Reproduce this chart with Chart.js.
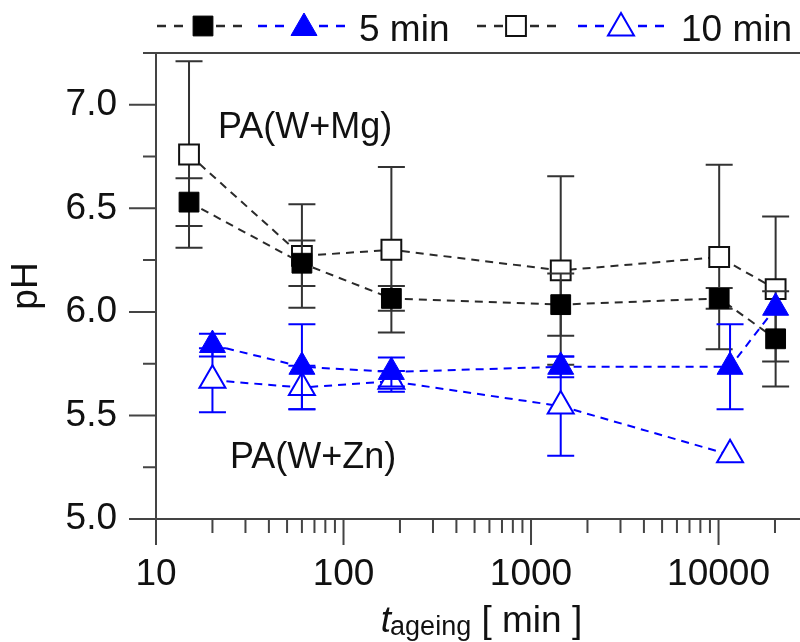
<!DOCTYPE html>
<html><head><meta charset="utf-8">
<script src="https://cdn.jsdelivr.net/npm/chart.js@4/dist/chart.umd.min.js"></script>
<style>
html,body{margin:0;padding:0;background:#fff;overflow:hidden;}
#wrap{width:800px;height:642px;overflow:hidden;position:relative;background:#fff;}
canvas{display:block;}
</style></head><body>
<div id="wrap"><canvas id="c" width="820" height="642"></canvas></div>
<script>
const FONT = "'Liberation Sans', Arial, Helvetica, sans-serif";
const TXT = '#111';

// ---- data ----
const xTickLabels = [10, 100, 1000, 10000];
const yTickLabels = [5.0, 5.5, 6.0, 6.5, 7.0];

const xMg = [15, 60, 180, 1440, 10080, 20160];
const mg5 = [6.53, 6.235, 6.065, 6.035, 6.065, 5.87];
const mg5Err = [0.115, 0.11, 0.06, 0.15, 0.05, 0.23];
const mg10 = [6.76, 6.27, 6.30, 6.20, 6.265, 6.11];
const mg10Err = [0.45, 0.25, 0.40, 0.455, 0.445, 0.35];

const xZn5 = [20, 60, 180, 1440, 11520, 20160];
const zn5 = [5.84, 5.735, 5.71, 5.735, 5.735, 6.02];
const zn5Err = [0.055, 0.205, 0.07, 0.05, 0.205, 0];
const xZn10 = [20, 60, 180, 1440, 11520];
const zn10 = [5.67, 5.635, 5.665, 5.545, 5.31];
const zn10Err = [0.155, 0.105, 0.05, 0.24, 0];

const legendLabels = ['', '5 min', '', '10 min'];
const annotations = [
  {text: 'PA(W+Mg)', x: 218, y: 138},
  {text: 'PA(W+Zn)', x: 230, y: 468}
];

function pts(xs, ys) { return xs.map((x, i) => ({x: x, y: ys[i]})); }

const BLACK = '#000', LINEK = '#2a2a2a', BLUE = '#0000ff';

const datasets = [
  {label: 'Mg 10 min', data: pts(xMg, mg10), errors: mg10Err, errColor: '#333',
   borderColor: LINEK, pointStyle: 'rect', pointRadius: 14, pointBackgroundColor: '#fff',
   pointBorderColor: '#111', pointBorderWidth: 2, order: 4},
  {label: 'Mg 5 min', data: pts(xMg, mg5), errors: mg5Err, errColor: '#333',
   borderColor: LINEK, pointStyle: 'rect', pointRadius: 14, pointBackgroundColor: BLACK,
   pointBorderColor: BLACK, pointBorderWidth: 1, order: 3},
  {label: 'Zn 10 min', data: pts(xZn10, zn10), errors: zn10Err, errColor: BLUE,
   borderColor: BLUE, pointStyle: 'triangle', pointRadius: 15, pointBackgroundColor: '#fff',
   pointBorderColor: BLUE, pointBorderWidth: 2, order: 2},
  {label: 'Zn 5 min', data: pts(xZn5, zn5), errors: zn5Err, errColor: BLUE,
   borderColor: BLUE, pointStyle: 'triangle', pointRadius: 15, pointBackgroundColor: BLUE,
   pointBorderColor: BLUE, pointBorderWidth: 1, order: 1}
];
datasets.forEach(d => { d.showLine = true; d.borderWidth = 2; d.borderDash = [8, 6]; d.tension = 0; d.fill = false; d.pointHoverRadius = d.pointRadius; });

const isMajorY = v => yTickLabels.some(t => Math.abs(t - v) < 1e-6);

// error bars drawn just before each dataset (under its own markers)
const errorBars = {
  id: 'errorBars',
  beforeDatasetDraw(chart, args) {
    const ds = chart.data.datasets[args.index];
    if (!ds.errors) return;
    const ctx = chart.ctx, yS = chart.scales.y;
    ctx.save();
    ctx.strokeStyle = ds.errColor; ctx.lineWidth = 2; ctx.setLineDash([]);
    args.meta.data.forEach((el, i) => {
      const e = ds.errors[i];
      if (!e) return;
      const v = ds.data[i].y;
      const yt = yS.getPixelForValue(v + e), yb = yS.getPixelForValue(v - e);
      ctx.beginPath();
      ctx.moveTo(el.x, yt); ctx.lineTo(el.x, yb);
      ctx.moveTo(el.x - 13.5, yt); ctx.lineTo(el.x + 13.5, yt);
      ctx.moveTo(el.x - 13.5, yb); ctx.lineTo(el.x + 13.5, yb);
      ctx.stroke();
    });
    ctx.restore();
  }
};

function marker(ctx, style, x, y, r, fill, stroke, bw) {
  ctx.save();
  ctx.setLineDash([]);
  ctx.fillStyle = fill; ctx.strokeStyle = stroke; ctx.lineWidth = bw;
  ctx.beginPath();
  if (style === 'rect') {
    const s = Math.SQRT1_2 * r;
    ctx.rect(x - s, y - s, 2 * s, 2 * s);
  } else {
    let a = 0;
    ctx.moveTo(x + Math.sin(a) * r, y - Math.cos(a) * r);
    a += 2 * Math.PI / 3; ctx.lineTo(x + Math.sin(a) * r, y - Math.cos(a) * r);
    a += 2 * Math.PI / 3; ctx.lineTo(x + Math.sin(a) * r, y - Math.cos(a) * r);
    ctx.closePath();
  }
  ctx.fill();
  if (bw > 0) ctx.stroke();
  ctx.restore();
}

const decor = {
  id: 'decor',
  afterDraw(chart) {
    const {ctx, chartArea: a, scales: {x, y}} = chart;
    ctx.save();
    // ticks
    ctx.strokeStyle = '#444'; ctx.lineWidth = 2; ctx.setLineDash([]);
    ctx.beginPath();
    y.ticks.forEach(t => {
      const py = y.getPixelForValue(t.value);
      ctx.moveTo(a.left - (isMajorY(t.value) ? 27 : 13), py); ctx.lineTo(a.left, py);
    });
    x.ticks.forEach(t => {
      const px = x.getPixelForValue(t.value);
      ctx.moveTo(px, a.bottom); ctx.lineTo(px, a.bottom + (xTickLabels.includes(t.value) ? 26 : 14));
    });
    ctx.moveTo(a.left, a.top); ctx.lineTo(a.right, a.top);
    ctx.stroke();

    // annotations
    ctx.fillStyle = TXT; ctx.font = '36px ' + FONT; ctx.textBaseline = 'alphabetic'; ctx.textAlign = 'left';
    annotations.forEach(an => ctx.fillText(an.text, an.x, an.y));

    // x title with subscript
    ctx.font = 'italic 37px ' + FONT; const wT = ctx.measureText('t').width;
    ctx.font = '27px ' + FONT; const wS = ctx.measureText('ageing').width;
    ctx.font = '37px ' + FONT; const wM = ctx.measureText(' [ min ]').width;
    let sx = (a.left + a.right) / 2 - (wT + wS + wM) / 2;
    ctx.font = 'italic 37px ' + FONT; ctx.fillText('t', sx, 632); sx += wT - 1;
    ctx.font = '27px ' + FONT; ctx.fillText('ageing', sx, 635); sx += wS;
    ctx.font = '37px ' + FONT; ctx.fillText(' [ min ]', sx, 632);

    // legend
    const items = [
      {x1: 157, x2: 242, mx: 203, ds: datasets[1]},
      {x1: 258, x2: 345, mx: 304, ds: datasets[3]},
      {x1: 477, x2: 556, mx: 516, ds: datasets[0]},
      {x1: 578, x2: 664, mx: 621, ds: datasets[2]}
    ];
    const textX = [null, 359, null, 681];
    items.forEach((it, i) => {
      ctx.save();
      ctx.strokeStyle = it.ds.borderColor; ctx.lineWidth = 2.5; ctx.setLineDash([9, 8]);
      ctx.beginPath(); ctx.moveTo(it.x1, 26); ctx.lineTo(it.mx - 12, 26); ctx.stroke();
      ctx.beginPath(); ctx.moveTo(it.x2, 26); ctx.lineTo(it.mx + 12, 26); ctx.stroke();
      ctx.restore();
      marker(ctx, it.ds.pointStyle, it.mx, it.ds.pointStyle === 'rect' ? 26 : 28, it.ds.pointRadius,
             it.ds.pointBackgroundColor, it.ds.pointBorderColor, it.ds.pointBorderWidth);
      if (legendLabels[i]) {
        ctx.fillStyle = TXT; ctx.font = '37px ' + FONT; ctx.textBaseline = 'alphabetic';
        ctx.fillText(legendLabels[i], textX[i], 41);
      }
    });
    ctx.restore();
  }
};

const minorX = [];
xTickLabels.concat([100000]).forEach(d => { for (let m = 1; m <= 9; m++) { const v = d * m; if (v >= 10 && v <= 30000) minorX.push(v); } });

function zeroPad(s) { s.paddingLeft = 0; s.paddingRight = 0; s.paddingTop = 0; s.paddingBottom = 0; }

new Chart(document.getElementById('c'), {
  type: 'scatter',
  data: {datasets: datasets},
  options: {
    responsive: false, animation: false, devicePixelRatio: 1, events: [],
    layout: {autoPadding: false, padding: {top: 53, right: 12, left: 0, bottom: 0}},
    plugins: {legend: {display: false}, tooltip: {enabled: false}},
    scales: {
      x: {
        type: 'logarithmic', min: 10, max: 30000, position: 'bottom',
        afterBuildTicks: s => { s.ticks = minorX.map(v => ({value: v, major: xTickLabels.includes(v)})); },
        afterFit: s => { s.height = 123; zeroPad(s); },
        grid: {display: true, drawOnChartArea: false, drawTicks: false},
        border: {display: true, color: '#444', width: 2},
        ticks: {autoSkip: false, maxRotation: 0, padding: 34, color: TXT,
          font: {family: FONT, size: 37},
          callback: v => xTickLabels.includes(v) ? String(v) : ''}
      },
      y: {
        min: 5, max: 7.25,
        afterBuildTicks: s => { const t = []; for (let k = 0; k <= 9; k++) t.push({value: 5 + k * 0.25}); s.ticks = t; },
        afterFit: s => { s.width = 156; zeroPad(s); },
        grid: {display: true, drawOnChartArea: false, drawTicks: false},
        border: {display: true, color: '#444', width: 2},
        title: {display: true, text: 'pH', color: TXT, font: {family: FONT, size: 37}, padding: {top: 5, bottom: 0}},
        ticks: {padding: 39, color: TXT, font: {family: FONT, size: 37},
          callback: v => isMajorY(v) ? v.toFixed(1) : ''}
      }
    }
  },
  plugins: [errorBars, decor]
});
</script>
</body></html>
